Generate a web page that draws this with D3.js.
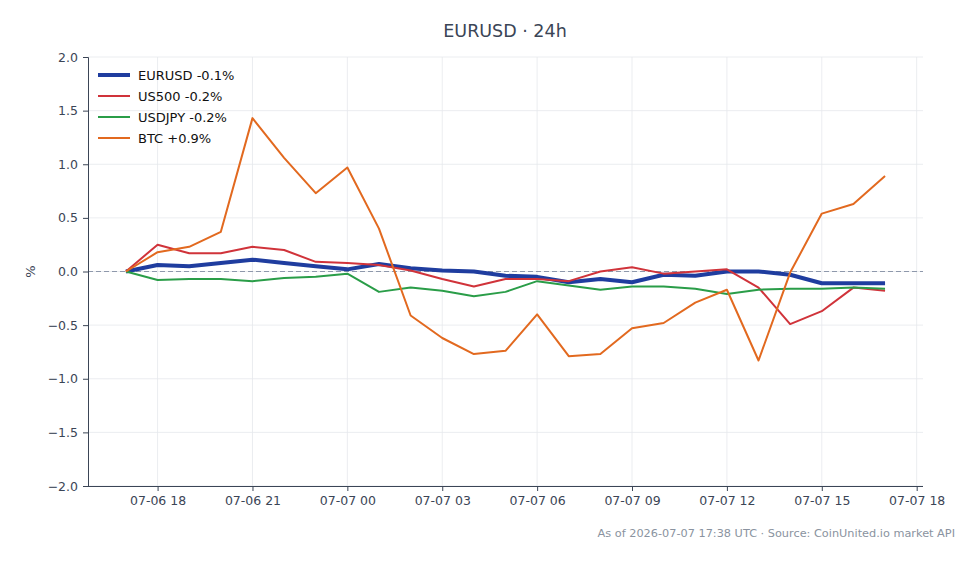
<!DOCTYPE html>
<html>
<head>
<meta charset="utf-8">
<script src="https://cdn.jsdelivr.net/npm/d3@7"></script>
<style>
  body { margin: 0; background: #fff; }
  svg { display: block; font-family: "DejaVu Sans", sans-serif; }
</style>
</head>
<body>
<svg id="chart" width="979" height="564"></svg>
<script>
// hourly timestamps (UTC)
const times = [
  "2026-07-06T17:00Z", "2026-07-06T18:00Z", "2026-07-06T19:00Z", "2026-07-06T20:00Z",
  "2026-07-06T21:00Z", "2026-07-06T22:00Z", "2026-07-06T23:00Z", "2026-07-07T00:00Z",
  "2026-07-07T01:00Z", "2026-07-07T02:00Z", "2026-07-07T03:00Z", "2026-07-07T04:00Z",
  "2026-07-07T05:00Z", "2026-07-07T06:00Z", "2026-07-07T07:00Z", "2026-07-07T08:00Z",
  "2026-07-07T09:00Z", "2026-07-07T10:00Z", "2026-07-07T11:00Z", "2026-07-07T12:00Z",
  "2026-07-07T13:00Z", "2026-07-07T14:00Z", "2026-07-07T15:00Z", "2026-07-07T16:00Z",
  "2026-07-07T17:00Z"
];

// % change vs. start
const eurusd = [0, 0.06, 0.05, 0.08, 0.11, 0.08, 0.05, 0.02, 0.07, 0.03, 0.01, 0.00,
  -0.04, -0.05, -0.10, -0.07, -0.10, -0.03, -0.04, 0.00, 0.00, -0.03, -0.11, -0.11, -0.11];
const us500 = [0, 0.25, 0.17, 0.17, 0.23, 0.20, 0.09, 0.08, 0.06, 0.01, -0.07, -0.14,
  -0.07, -0.07, -0.09, 0.00, 0.04, -0.02, 0.00, 0.02, -0.15, -0.49, -0.37, -0.15, -0.18];
const usdjpy = [0, -0.08, -0.07, -0.07, -0.09, -0.06, -0.05, -0.02, -0.19, -0.15, -0.18, -0.23,
  -0.19, -0.09, -0.13, -0.17, -0.14, -0.14, -0.16, -0.21, -0.17, -0.16, -0.16, -0.15, -0.16];
const btc = [0, 0.18, 0.23, 0.37, 1.43, 1.06, 0.73, 0.97, 0.40, -0.41, -0.62, -0.77,
  -0.74, -0.40, -0.79, -0.77, -0.53, -0.48, -0.29, -0.17, -0.83, -0.01, 0.54, 0.63, 0.89];

const seriesNames = ["EURUSD -0.1%", "US500 -0.2%", "USDJPY -0.2%", "BTC +0.9%"];
const seriesValues = [eurusd, us500, usdjpy, btc];
const seriesColors = ["#1f3d9f", "#d0333a", "#2a9d48", "#e2691f"];
const seriesWidths = [4, 2, 2, 2];

const yTicks = [-2.0, -1.5, -1.0, -0.5, 0.0, 0.5, 1.0, 1.5, 2.0];

const width = 979, height = 564;
const margin = { top: 57, right: 56, bottom: 78, left: 88 };
const svg = d3.select("#chart");

const parsed = times.map(t => new Date(t));
const span = parsed[parsed.length - 1] - parsed[0];
const x = d3.scaleUtc()
  .domain([new Date(+parsed[0] - span * 0.05), new Date(+parsed[parsed.length - 1] + span * 0.05)])
  .range([margin.left, width - margin.right]);
const y = d3.scaleLinear()
  .domain([-2, 2])
  .range([height - margin.bottom, margin.top]);

const axisColor = "#3b4556";
const gridColor = "#e6e8ec";

// grid
const xTicks = d3.utcHour.every(3).range(x.domain()[0], x.domain()[1]);
svg.append("g").selectAll("line").data(xTicks).join("line")
  .attr("x1", d => x(d)).attr("x2", d => x(d))
  .attr("y1", margin.top).attr("y2", height - margin.bottom)
  .attr("stroke", gridColor).attr("stroke-width", 0.8);
svg.append("g").selectAll("line").data(yTicks).join("line")
  .attr("x1", margin.left).attr("x2", width - margin.right)
  .attr("y1", d => y(d)).attr("y2", d => y(d))
  .attr("stroke", gridColor).attr("stroke-width", 0.8);

// zero line
svg.append("line")
  .attr("x1", margin.left).attr("x2", width - margin.right)
  .attr("y1", y(0)).attr("y2", y(0))
  .attr("stroke", "#8e98ab").attr("stroke-width", 1)
  .attr("stroke-dasharray", "5,3");

// axes
const xAxis = svg.append("g")
  .attr("transform", `translate(0,${height - margin.bottom})`)
  .call(d3.axisBottom(x).tickValues(xTicks).tickFormat(d3.utcFormat("%m-%d %H")).tickSize(5).tickPadding(5));
const yAxis = svg.append("g")
  .attr("transform", `translate(${margin.left},0)`)
  .call(d3.axisLeft(y).tickValues(yTicks).tickFormat(d3.format(".1f")).tickSize(5).tickPadding(5));
[xAxis, yAxis].forEach(g => {
  g.selectAll("path").attr("stroke", axisColor).attr("stroke-width", 1);
  g.selectAll("line").attr("stroke", axisColor);
  g.selectAll("text").attr("fill", "#3b4556").attr("font-size", 12.5)
    .attr("font-family", "DejaVu Sans");
});
xAxis.select(".domain").attr("d", `M${margin.left},0.5H${width - margin.right}`);

// lines
const line = d3.line().x((d, i) => x(parsed[i])).y(d => y(d));
seriesValues.forEach((vals, k) => {
  svg.append("path")
    .datum(vals)
    .attr("fill", "none")
    .attr("stroke", seriesColors[k])
    .attr("stroke-width", seriesWidths[k])
    .attr("stroke-linejoin", "round")
    .attr("d", line);
});

// legend
const legend = svg.append("g").attr("transform", "translate(98,75)");
seriesNames.forEach((name, k) => {
  const g = legend.append("g").attr("transform", `translate(0,${k * 21})`);
  g.append("line").attr("x1", 0).attr("x2", 32).attr("y1", 0).attr("y2", 0)
    .attr("stroke", seriesColors[k]).attr("stroke-width", seriesWidths[k]);
  g.append("text").attr("x", 40).attr("y", 0).attr("dy", "0.35em")
    .attr("font-size", 13).attr("fill", "#111").text(name);
});

// title
svg.append("text")
  .attr("x", 505).attr("y", 37)
  .attr("text-anchor", "middle")
  .attr("font-size", 17.5).attr("fill", "#3b4556")
  .text("EURUSD · 24h");

// y label
svg.append("text")
  .attr("transform", `translate(35,${y(0)}) rotate(-90)`)
  .attr("text-anchor", "middle")
  .attr("font-size", 13).attr("fill", "#3b4556")
  .text("%");

// footnote
svg.append("text")
  .attr("x", 955).attr("y", 537)
  .attr("text-anchor", "end")
  .attr("font-size", 11.3).attr("fill", "#8a93a0")
  .text("As of 2026-07-07 17:38 UTC · Source: CoinUnited.io market API");
</script>
</body>
</html>
